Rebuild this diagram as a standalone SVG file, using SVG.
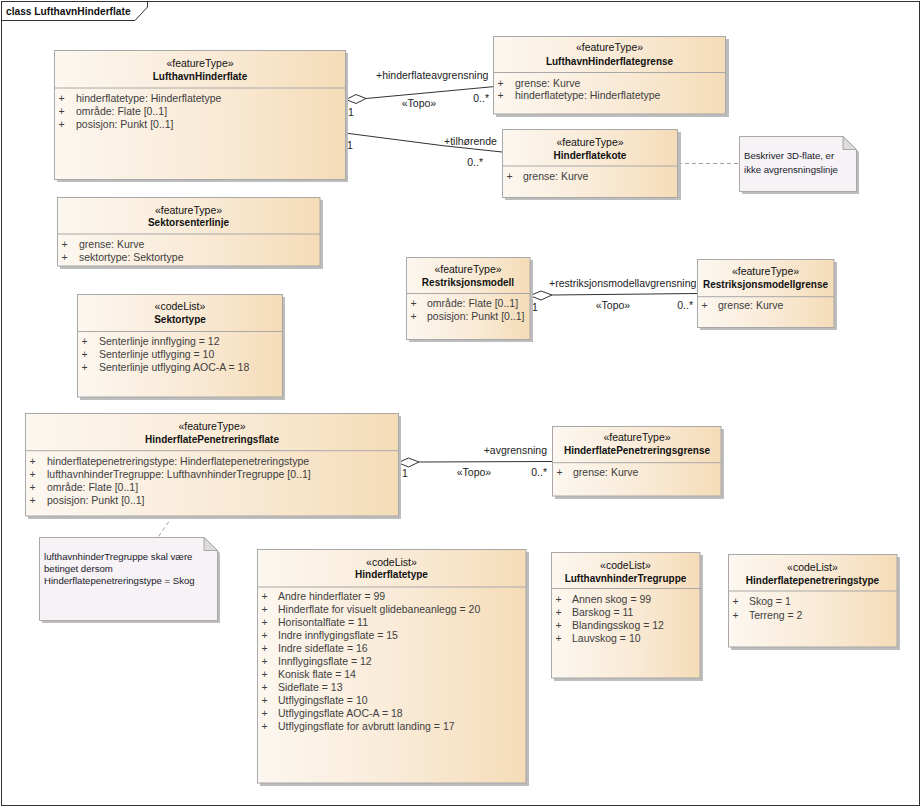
<svg xmlns="http://www.w3.org/2000/svg" width="922" height="808" viewBox="0 0 922 808">
<defs>
<linearGradient id="fill" x1="0" y1="0" x2="1" y2="0">
<stop offset="0" stop-color="#FCF7F0"/>
<stop offset="0.55" stop-color="#F9EAD6"/>
<stop offset="1" stop-color="#F5DCB8"/>
</linearGradient>
</defs>
<style>
text{font-family:"Liberation Sans",Arial,sans-serif;fill:#222}
.st{font-size:10.5px;text-anchor:middle;fill:#111}
.nm{font-size:10px;font-weight:bold;text-anchor:middle;fill:#111}
.at{font-size:10.5px;fill:#404040}
.lb{font-size:10.5px;fill:#222}
.mid{text-anchor:middle}
.end{text-anchor:end}
.box{fill:url(#fill);stroke:#A8A8A8;stroke-width:1}
.sh{fill:#BDBDBD}
.dv{stroke:#A8A8A8;stroke-width:1}
.note{fill:#F6F2F6;stroke:#A8A8A8;stroke-width:1}
.ear{fill:#DCDCDC;stroke:#A8A8A8;stroke-width:1}
.nt{font-size:9.6px;fill:#1a1a2a}
.ln{stroke:#333;stroke-width:1;fill:none}
.dia{fill:#fff;stroke:#333;stroke-width:1}
.dash{stroke:#A0A0A0;stroke-width:1;stroke-dasharray:4,3;fill:none}
</style>
<rect x="0" y="0" width="922" height="808" fill="#fff"/>
<g id="frame">
<rect x="1.5" y="1.5" width="918" height="804" fill="none" stroke="#333"/>
<path d="M1.5,20.5 H135 L147.5,7 V1.5" fill="none" stroke="#333"/>
<text x="6" y="14.5" style="font-size:10.2px;font-weight:bold;fill:#111">class LufthavnHinderflate</text>
</g>
<g id="connectors">
<line class="ln" x1="366" y1="98.5" x2="493" y2="86.7"/>
<polygon class="dia" points="346,99.5 356,94.5 366,98.5 356,103.5"/>
<text class="lb" x="376" y="78.7">+hinderflateavgrensning</text>
<text class="lb mid" x="419" y="106.5">«Topo»</text>
<text class="lb end" x="489" y="102">0..*</text>
<text class="lb" x="348" y="115.5">1</text>
<polyline class="ln" points="345,133 443,145.7 502,152"/>
<text class="lb" x="444" y="144.7">+tilhørende</text>
<text class="lb end" x="483" y="166">0..*</text>
<text class="lb" x="347" y="149">1</text>
<line class="dash" x1="678" y1="163.5" x2="739" y2="163.5"/>
<line class="ln" x1="552" y1="295" x2="697" y2="293.5"/>
<polygon class="dia" points="530,295.7 541,291 552,295 541,300"/>
<text class="lb" x="549" y="287">+restriksjonsmodellavgrensning</text>
<text class="lb mid" x="613" y="308.7">«Topo»</text>
<text class="lb end" x="693" y="308.7">0..*</text>
<text class="lb" x="532" y="311">1</text>
<line class="ln" x1="419" y1="462" x2="552" y2="461.5"/>
<polygon class="dia" points="398,462.7 408.5,458 419,462 408.5,467"/>
<text class="lb end" x="547" y="453.7">+avgrensning</text>
<text class="lb mid" x="474" y="475.5">«Topo»</text>
<text class="lb end" x="547" y="475.5">0..*</text>
<text class="lb" x="402" y="477">1</text>
<line class="dash" x1="173" y1="516" x2="158" y2="537"/>
</g>
<g id="LufthavnHinderflate">
<rect class="sh" x="57" y="53" width="291" height="129"/>
<rect class="box" x="54.5" y="50.5" width="291" height="129"/>
<line class="dv" x1="54.5" y1="88" x2="345.5" y2="88"/>
<text class="st" x="200" y="66.7">«featureType»</text>
<text class="nm" x="200" y="79.5">LufthavnHinderflate</text>
<text class="at" x="58.5" y="101.7">+</text><text class="at" x="76" y="101.7">hinderflatetype: Hinderflatetype</text>
<text class="at" x="58.5" y="114.7">+</text><text class="at" x="76" y="114.7">område: Flate [0..1]</text>
<text class="at" x="58.5" y="127.7">+</text><text class="at" x="76" y="127.7">posisjon: Punkt [0..1]</text>
</g>
<g id="LufthavnHinderflategrense">
<rect class="sh" x="496" y="39" width="233" height="78"/>
<rect class="box" x="493.5" y="36.5" width="232" height="77.5"/>
<line class="dv" x1="493.5" y1="72.5" x2="725.5" y2="72.5"/>
<text class="st" x="609.5" y="51">«featureType»</text>
<text class="nm" x="609.5" y="64.5">LufthavnHinderflategrense</text>
<text class="at" x="497.5" y="86.5">+</text><text class="at" x="515" y="86.5">grense: Kurve</text>
<text class="at" x="497.5" y="99">+</text><text class="at" x="515" y="99">hinderflatetype: Hinderflatetype</text>
</g>
<g id="Hinderflatekote">
<rect class="sh" x="505" y="132" width="176" height="68"/>
<rect class="box" x="502.5" y="129.5" width="175" height="68"/>
<line class="dv" x1="502.5" y1="166" x2="677.5" y2="166"/>
<text class="st" x="590" y="145.7">«featureType»</text>
<text class="nm" x="590" y="158.7">Hinderflatekote</text>
<text class="at" x="506.5" y="180.4">+</text><text class="at" x="523" y="180.4">grense: Kurve</text>
</g>
<g id="note1">
<path class="sh" d="M742,139 H845 L859,152 V194 H742 Z"/>
<path class="note" d="M739.5,136.5 H843 L856.5,149.5 V191.5 H739.5 Z"/>
<path class="ear" d="M843,136.5 V149.5 H856.5 Z"/>
<text class="nt" x="744" y="159">Beskriver 3D-flate, er</text>
<text class="nt" x="744" y="172.5">ikke avgrensningslinje</text>
</g>
<g id="Sektorsenterlinje">
<rect class="sh" x="60" y="200" width="263" height="69"/>
<rect class="box" x="57.5" y="197.5" width="262.5" height="68.5"/>
<line class="dv" x1="57.5" y1="234" x2="320" y2="234"/>
<text class="st" x="188.5" y="213.7">«featureType»</text>
<text class="nm" x="188.5" y="226.2">Sektorsenterlinje</text>
<text class="at" x="61.5" y="248">+</text><text class="at" x="79" y="248">grense: Kurve</text>
<text class="at" x="61.5" y="261.4">+</text><text class="at" x="79" y="261.4">sektortype: Sektortype</text>
</g>
<g id="Sektortype">
<rect class="sh" x="80" y="297" width="205" height="103"/>
<rect class="box" x="77.5" y="294.5" width="205" height="102.5"/>
<line class="dv" x1="77.5" y1="331.5" x2="282.5" y2="331.5"/>
<text class="st" x="180" y="310.4">«codeList»</text>
<text class="nm" x="180" y="322.8">Sektortype</text>
<text class="at" x="81.5" y="345.4">+</text><text class="at" x="99" y="345.4">Senterlinje innflyging = 12</text>
<text class="at" x="81.5" y="358.2">+</text><text class="at" x="99" y="358.2">Senterlinje utflyging = 10</text>
<text class="at" x="81.5" y="371">+</text><text class="at" x="99" y="371">Senterlinje utflyging AOC-A = 18</text>
</g>
<g id="Restriksjonsmodell">
<rect class="sh" x="409" y="260" width="124" height="82"/>
<rect class="box" x="406.5" y="257.5" width="123.5" height="82"/>
<line class="dv" x1="406.5" y1="293.5" x2="530" y2="293.5"/>
<text class="st" x="468" y="273">«featureType»</text>
<text class="nm" x="468" y="285.8">Restriksjonsmodell</text>
<text class="at" x="410.5" y="307">+</text><text class="at" x="427" y="307">område: Flate [0..1]</text>
<text class="at" x="410.5" y="320.4">+</text><text class="at" x="427" y="320.4">posisjon: Punkt [0..1]</text>
</g>
<g id="Restriksjonsmodellgrense">
<rect class="sh" x="700" y="262" width="137" height="68"/>
<rect class="box" x="697.5" y="259.5" width="136.5" height="68"/>
<line class="dv" x1="697.5" y1="296.7" x2="834" y2="296.7"/>
<text class="st" x="765.5" y="275.4">«featureType»</text>
<text class="nm" x="765.5" y="287.8">Restriksjonsmodellgrense</text>
<text class="at" x="701.5" y="309.4">+</text><text class="at" x="718" y="309.4">grense: Kurve</text>
</g>
<g id="HinderflatePenetreringsflate">
<rect class="sh" x="28" y="416" width="373" height="103"/>
<rect class="box" x="25.5" y="413.5" width="373" height="102.5"/>
<line class="dv" x1="25.5" y1="450.7" x2="398.5" y2="450.7"/>
<text class="st" x="212" y="429.7">«featureType»</text>
<text class="nm" x="212" y="442.8">HinderflatePenetreringsflate</text>
<text class="at" x="29.5" y="464.7">+</text><text class="at" x="47" y="464.7">hinderflatepenetreringstype: Hinderflatepenetreringstype</text>
<text class="at" x="29.5" y="477.7">+</text><text class="at" x="47" y="477.7">lufthavnhinderTregruppe: LufthavnhinderTregruppe [0..1]</text>
<text class="at" x="29.5" y="490.7">+</text><text class="at" x="47" y="490.7">område: Flate [0..1]</text>
<text class="at" x="29.5" y="503.7">+</text><text class="at" x="47" y="503.7">posisjon: Punkt [0..1]</text>
</g>
<g id="HinderflatePenetreringsgrense">
<rect class="sh" x="555" y="429" width="169" height="70"/>
<rect class="box" x="552.5" y="426.5" width="168.5" height="69.5"/>
<line class="dv" x1="552.5" y1="462.7" x2="721" y2="462.7"/>
<text class="st" x="637" y="441">«featureType»</text>
<text class="nm" x="637" y="454.2">HinderflatePenetreringsgrense</text>
<text class="at" x="556.5" y="476.4">+</text><text class="at" x="573" y="476.4">grense: Kurve</text>
</g>
<g id="note2">
<path class="sh" d="M42,540 H206 L220,553 V623 H42 Z"/>
<path class="note" d="M39.5,537.5 H204 L217.5,550.5 V620.5 H39.5 Z"/>
<path class="ear" d="M204,537.5 V550.5 H217.5 Z"/>
<text class="nt" x="44" y="560">lufthavnhinderTregruppe skal være</text>
<text class="nt" x="44" y="572">betinget dersom</text>
<text class="nt" x="44" y="584">Hinderflatepenetreringstype = Skog</text>
</g>
<g id="Hinderflatetype">
<rect class="sh" x="260" y="552" width="269" height="234"/>
<rect class="box" x="257.5" y="549.5" width="268.5" height="233.5"/>
<line class="dv" x1="257.5" y1="587" x2="526" y2="587"/>
<text class="st" x="391.5" y="565.7">«codeList»</text>
<text class="nm" x="391.5" y="578.2">Hinderflatetype</text>
<text class="at" x="261.5" y="600.4">+</text><text class="at" x="278" y="600.4">Andre hinderflater = 99</text>
<text class="at" x="261.5" y="613.4">+</text><text class="at" x="278" y="613.4">Hinderflate for visuelt glidebaneanlegg = 20</text>
<text class="at" x="261.5" y="626.4">+</text><text class="at" x="278" y="626.4">Horisontalflate = 11</text>
<text class="at" x="261.5" y="639.4">+</text><text class="at" x="278" y="639.4">Indre innflygingsflate = 15</text>
<text class="at" x="261.5" y="652.4">+</text><text class="at" x="278" y="652.4">Indre sideflate = 16</text>
<text class="at" x="261.5" y="665.4">+</text><text class="at" x="278" y="665.4">Innflygingsflate = 12</text>
<text class="at" x="261.5" y="678.4">+</text><text class="at" x="278" y="678.4">Konisk flate = 14</text>
<text class="at" x="261.5" y="691.4">+</text><text class="at" x="278" y="691.4">Sideflate = 13</text>
<text class="at" x="261.5" y="704.4">+</text><text class="at" x="278" y="704.4">Utflygingsflate = 10</text>
<text class="at" x="261.5" y="717.4">+</text><text class="at" x="278" y="717.4">Utflygingsflate AOC-A = 18</text>
<text class="at" x="261.5" y="730.4">+</text><text class="at" x="278" y="730.4">Utflygingsflate for avbrutt landing = 17</text>
</g>
<g id="LufthavnhinderTregruppe">
<rect class="sh" x="554" y="555" width="149" height="126"/>
<rect class="box" x="551.5" y="552.5" width="148.5" height="125.5"/>
<line class="dv" x1="551.5" y1="588.5" x2="700" y2="588.5"/>
<text class="st" x="625.5" y="568.7">«codeList»</text>
<text class="nm" x="625.5" y="581.8">LufthavnhinderTregruppe</text>
<text class="at" x="555.5" y="603.2">+</text><text class="at" x="572" y="603.2">Annen skog = 99</text>
<text class="at" x="555.5" y="616.2">+</text><text class="at" x="572" y="616.2">Barskog = 11</text>
<text class="at" x="555.5" y="629.2">+</text><text class="at" x="572" y="629.2">Blandingsskog = 12</text>
<text class="at" x="555.5" y="642.2">+</text><text class="at" x="572" y="642.2">Lauvskog = 10</text>
</g>
<g id="Hinderflatepenetreringstype">
<rect class="sh" x="731" y="557" width="169" height="93"/>
<rect class="box" x="728.5" y="554.5" width="168.5" height="92.5"/>
<line class="dv" x1="728.5" y1="591" x2="897" y2="591"/>
<text class="st" x="812.5" y="571.4">«codeList»</text>
<text class="nm" x="812.5" y="583.5">Hinderflatepenetreringstype</text>
<text class="at" x="732.5" y="605.4">+</text><text class="at" x="749" y="605.4">Skog = 1</text>
<text class="at" x="732.5" y="618.7">+</text><text class="at" x="749" y="618.7">Terreng = 2</text>
</g>
</svg>
